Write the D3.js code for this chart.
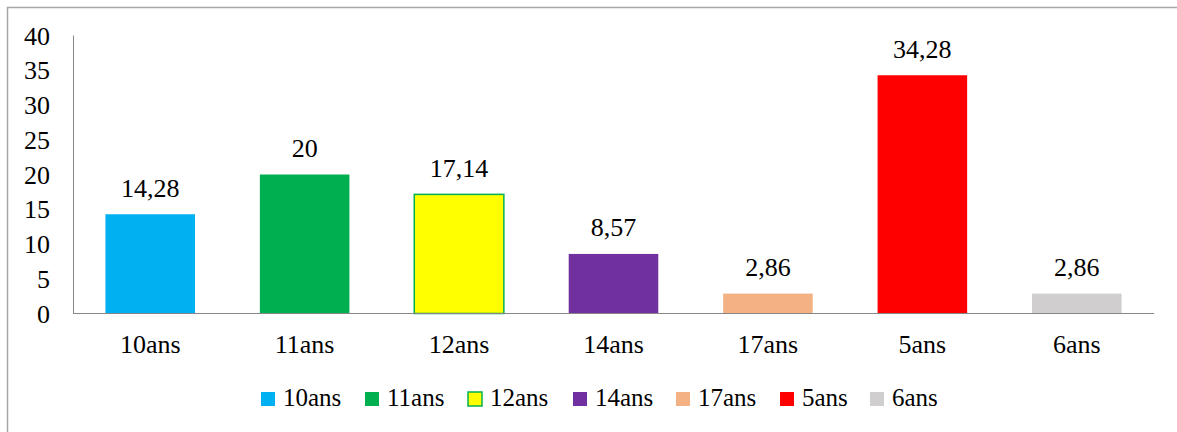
<!DOCTYPE html>
<html>
<head>
<meta charset="utf-8">
<script src="https://cdn.jsdelivr.net/npm/d3@7"></script>
<style>
  body { margin: 0; background: #fff; }
</style>
</head>
<body>
<svg width="1177" height="432"></svg>
<script>
// Data
var categories = ["10ans", "11ans", "12ans", "14ans", "17ans", "5ans", "6ans"];
var values = [14.28, 20, 17.14, 8.57, 2.86, 34.28, 2.86];
var valueLabels = ["14,28", "20", "17,14", "8,57", "2,86", "34,28", "2,86"];
var barColors = ["#00B0F0", "#00B050", "#FFFF00", "#7030A0", "#F4B183", "#FF0000", "#D0CECE"];
var yTicks = [0, 5, 10, 15, 20, 25, 30, 35, 40];

var FONT = "'Liberation Serif', Tinos, 'Times New Roman', 'DejaVu Serif', serif";
var FONT_SIZE = "26px";

var svg = d3.select("svg")
	.attr("font-family", FONT)
	.style("font-family", FONT);

// outer chart border
svg.append("rect")
	.attr("x", 7.5).attr("y", 7.5)
	.attr("width", 1200).attr("height", 460)
	.attr("fill", "none")
	.attr("stroke", "#A6A6A6")
	.attr("stroke-width", 1.5);

var x = d3.scaleBand()
	.domain(categories)
	.range([73, 1154])
	.paddingInner(0.42)
	.paddingOuter(0.21);

var y = d3.scaleLinear()
	.domain([0, 40])
	.range([313.5, 35.5]);

// y axis labels
svg.append("g")
	.selectAll("text")
	.data(yTicks)
	.enter().append("text")
	.attr("x", 50)
	.attr("y", d => y(d))
	.attr("dy", "0.35em")
	.attr("text-anchor", "end")
	.style("font-size", FONT_SIZE)
	.text(d => d);

// bars
svg.append("g")
	.selectAll("rect")
	.data(values)
	.enter().append("rect")
	.attr("x", (d, i) => x(categories[i]))
	.attr("y", d => y(d))
	.attr("width", x.bandwidth())
	.attr("height", d => y(0) - y(d))
	.attr("fill", (d, i) => barColors[i])
	.attr("stroke", (d, i) => categories[i] == "12ans" ? "#00B050" : "none")
	.attr("stroke-width", 1.5);

// axis lines
svg.append("line")
	.attr("x1", 73.5).attr("x2", 73.5)
	.attr("y1", y(40)).attr("y2", y(0))
	.attr("stroke", "#868686").attr("stroke-width", 1);
svg.append("line")
	.attr("x1", 73).attr("x2", 1154)
	.attr("y1", y(0)).attr("y2", y(0))
	.attr("stroke", "#868686").attr("stroke-width", 1);

// value labels
svg.append("g")
	.selectAll("text")
	.data(values)
	.enter().append("text")
	.attr("x", (d, i) => x(categories[i]) + x.bandwidth() / 2)
	.attr("y", d => y(d) - 17.5)
	.attr("text-anchor", "middle")
	.style("font-size", FONT_SIZE)
	.text((d, i) => valueLabels[i]);

// category labels
svg.append("g")
	.selectAll("text")
	.data(categories)
	.enter().append("text")
	.attr("x", d => x(d) + x.bandwidth() / 2)
	.attr("y", 353)
	.attr("text-anchor", "middle")
	.style("font-size", FONT_SIZE)
	.text(d => d);

// legend
var legendX = [261, 365, 468, 573, 676, 780, 870];
var legend = svg.append("g")
	.selectAll("g")
	.data(categories)
	.enter().append("g")
	.attr("transform", (d, i) => "translate(" + legendX[i] + ",392)");

legend.append("rect")
	.attr("width", 14).attr("height", 14)
	.attr("fill", (d, i) => barColors[i])
	.attr("stroke", d => d == "12ans" ? "#00B050" : "none")
	.attr("stroke-width", 1.5);

legend.append("text")
	.attr("x", 22)
	.attr("y", 14)
	.style("font-size", "25px")
	.text(d => d);
</script>
</body>
</html>
